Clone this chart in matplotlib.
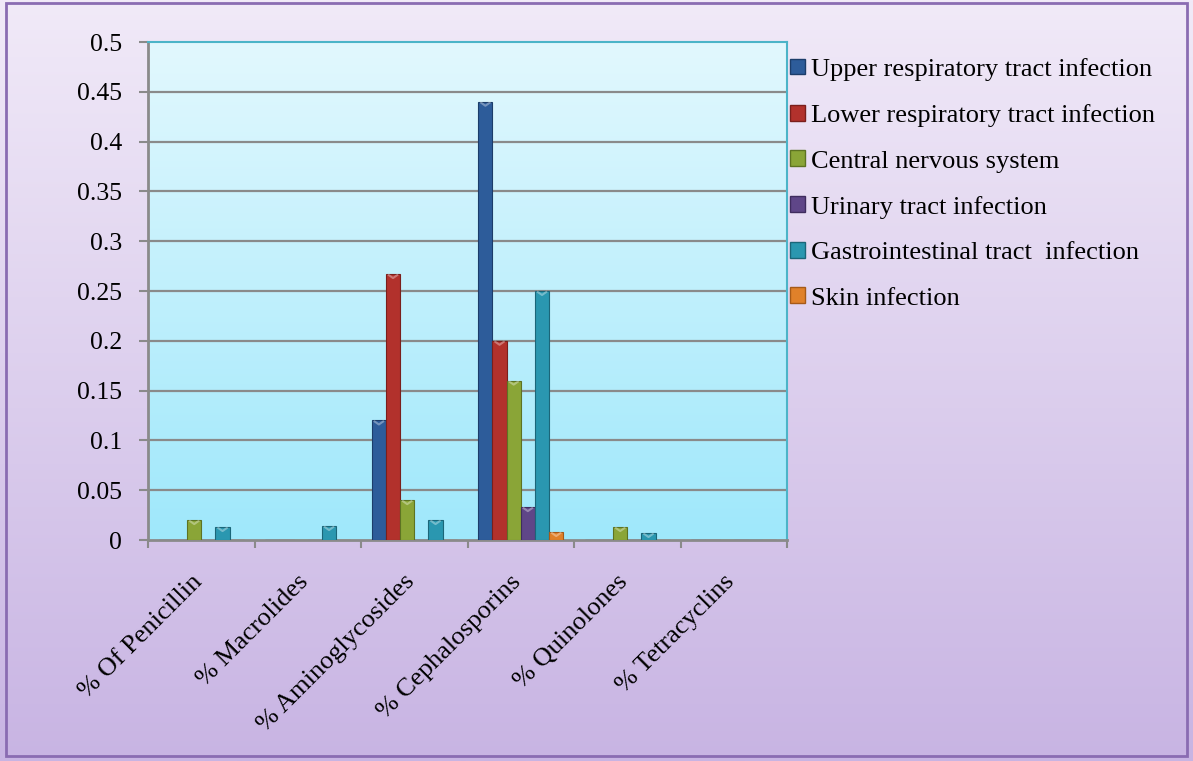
import numpy as np
import matplotlib.pyplot as plt
import matplotlib.transforms as mtransforms
from matplotlib.patches import Patch, Rectangle
from matplotlib.colors import LinearSegmentedColormap

# antibiotic classes and share of use per infection type
classes = ['% Of Penicillin', '% Macrolides', '% Aminoglycosides',
           '% Cephalosporins', '% Quinolones', '% Tetracyclins']
series = ['Upper respiratory tract infection',
          'Lower respiratory tract infection',
          'Central nervous system',
          'Urinary tract infection',
          'Gastrointestinal tract  infection',
          'Skin infection']
upper_resp = [0, 0, 0.12, 0.44, 0, 0]
lower_resp = [0, 0, 0.267, 0.2, 0, 0]
cns = [0.02, 0, 0.04, 0.16, 0.013, 0]
urinary = [0, 0, 0, 0.033, 0, 0]
gastro = [0.013, 0.014, 0.02, 0.25, 0.007, 0]
skin = [0, 0, 0, 0.008, 0, 0]
values = [upper_resp, lower_resp, cns, urinary, gastro, skin]
yticks = [0, 0.05, 0.1, 0.15, 0.2, 0.25, 0.3, 0.35, 0.4, 0.45, 0.5]
ytick_labels = ['0', '0.05', '0.1', '0.15', '0.2', '0.25', '0.3', '0.35',
                '0.4', '0.45', '0.5']

colors = ['#2d5c9a', '#b2312c', '#8aa537', '#5f4688', '#2a97b0', '#e0812a']
edges = ['#1c3d6a', '#7a1f1c', '#5d7322', '#3f2c5e', '#1b6679', '#a65a18']

plt.rcParams['font.family'] = ['Liberation Serif', 'DejaVu Serif']

fig = plt.figure(figsize=(11.93, 7.61), dpi=100)

# lavender gradient behind everything
bg = fig.add_axes([0, 0, 1, 1], zorder=-2)
bg_cmap = LinearSegmentedColormap.from_list('bg', ['#f1eaf8', '#c8b4e3'])
bg.imshow(np.linspace(0, 1, 256).reshape(-1, 1), aspect='auto', cmap=bg_cmap,
          extent=[0, 1, 0, 1])
bg.axis('off')
fig.add_artist(Rectangle((0.005, 0.006), 0.99, 0.99, transform=fig.transFigure,
                         fill=False, edgecolor='#8a6cb2', linewidth=2))

ax = fig.add_axes([0.1241, 0.2904, 0.5356, 0.6544], zorder=1)
ax.set_facecolor('none')
n = len(classes)
ax.set_xlim(-0.5, n - 0.5)
ax.set_ylim(0, 0.5)

# cyan plot area gradient
pa_cmap = LinearSegmentedColormap.from_list('pa', ['#9fe8fb', '#e2f8fe'])
ax.imshow(np.linspace(0, 1, 256).reshape(-1, 1), aspect='auto', cmap=pa_cmap,
          origin='lower', extent=[-0.5, n - 0.5, 0, 0.5], zorder=0)

for y in yticks[1:-1]:
    ax.axhline(y, color='#8a8a8a', linewidth=1.6, zorder=1)

x = np.arange(n)
w = 0.133
for i, vals in enumerate(values):
    pos = x + (i - 2.5) * w
    ax.bar(pos, vals, width=w, color=colors[i], edgecolor=edges[i],
           linewidth=0.8, zorder=3)
    # small lighter cap on each bar
    for p, v in zip(pos, vals):
        if v > 0:
            ax.plot([p - w * 0.3, p, p + w * 0.3],
                    [v - 0.001, v - 0.004, v - 0.001],
                    color='white', alpha=0.35, linewidth=1.5, zorder=4)

ax.set_yticks(yticks)
ax.set_yticklabels(ytick_labels, fontsize=18.5)
ax.tick_params(axis='y', length=6.5, width=1.5, color='#8a8a8a', pad=12)

ax.set_xticks(np.arange(-0.5, n, 1))
ax.set_xticklabels([])
ax.tick_params(axis='x', which='major', length=6, width=1.5, color='#8a8a8a')
ax.set_xticks(x, minor=True)
ax.set_xticklabels(classes, minor=True, rotation=45, ha='right', va='top',
                   fontsize=19)
ax.tick_params(axis='x', which='minor', length=0, pad=22)
shift = mtransforms.ScaledTranslation(5 / 100, 0, fig.dpi_scale_trans)
for lab in ax.get_xticklabels(minor=True):
    lab.set_transform(lab.get_transform() + shift)

for side in ['left', 'bottom']:
    ax.spines[side].set_color('#8a8a8a')
    ax.spines[side].set_linewidth(2)
for side in ['top', 'right']:
    ax.spines[side].set_color('#4cb4c8')
    ax.spines[side].set_linewidth(1.5)

handles = [Patch(facecolor=c, edgecolor=e) for c, e in zip(colors, edges)]
fig.legend(handles, series, loc='upper left', bbox_to_anchor=(0.662, 0.924),
           frameon=False, fontsize=19, labelspacing=0.88, handlelength=0.57,
           handleheight=0.55, handletextpad=0.25, borderaxespad=0,
           borderpad=0)

fig.savefig('out.png', dpi=100)
